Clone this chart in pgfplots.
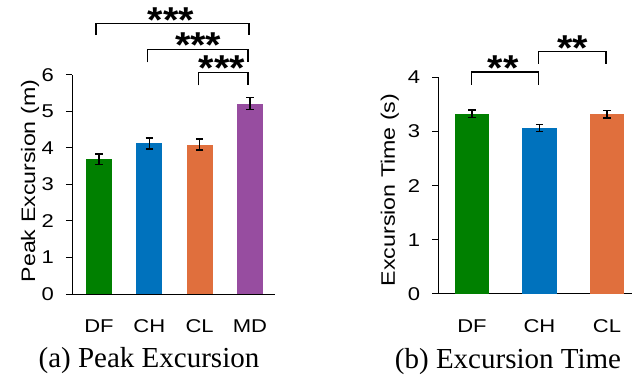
\documentclass[border=0pt]{standalone}
\usepackage{pgfplots}
\pgfplotsset{compat=1.18}
\usepackage{fontspec}
\setmainfont{Liberation Serif}
\newfontfamily\arial[FakeStretch=1.19]{Liberation Sans}
\newfontfamily\starfont[FakeStretch=1.1]{Liberation Sans}
\definecolor{cgreen}{RGB}{0,128,0}
\definecolor{cblue}{RGB}{0,114,189}
\definecolor{corange}{RGB}{224,111,61}
\definecolor{cpurple}{RGB}{151,77,160}
\pgfplotsset{
  mybase/.style={
    scale only axis, clip=false,
    axis lines=left, axis line style={-, line width=0.9pt, black},
    ymin=0,
    xtick style={draw=none},
    ytick style={line width=0.9pt, black},
    tick align=outside, major tick length=6pt,
    /pgf/number format/assume math mode=true,
    tick label style={font=\arial\fontsize{18.5}{20}\selectfont},
    label style={font=\arial\fontsize{19.5}{21}\selectfont},
    xticklabel style={anchor=base, inner sep=0pt, yshift=-33pt},
    yticklabel style={anchor=east, inner sep=0pt, xshift=-12pt},
  },
  mybar/.style 2 args={ybar, bar shift=0pt, bar width=#2, draw=none, fill=#1,
    /pgfplots/error bars/y dir=both, /pgfplots/error bars/y explicit,
    /pgfplots/error bars/error bar style={line width=1.4pt, black},
    /pgfplots/error bars/error mark options={rotate=90, line width=1.4pt, mark size=3.7pt, black}},
  bracket/.style={sharp plot, no marks, black, line width=1.2pt},
}
\tikzset{starnode/.style={anchor=base, inner sep=0pt, yshift=-8.5pt,
  font=\starfont\bfseries\fontsize{36}{36}\selectfont,
  text height=0.74em, text depth=-0.36em}}
\begin{document}
\begin{tikzpicture}
\useasboundingbox (0,0) rectangle (632pt,379pt);
% ---------- (a) ----------
\begin{axis}[mybase,
  at={(72pt,85pt)}, anchor=south west,
  width=203pt, height=219.3pt,
  xmin=-0.537, xmax=3.497, ymax=6,
  xtick={0,1,2,3}, xticklabels={DF,CH,CL,MD},
  ytick={0,1,2,3,4,5,6},
  ylabel={Peak Excursion (m)},
  ylabel style={at={(axis description cs:-0.182,0.515)}, anchor=base, inner sep=0pt},
]
\addplot[mybar={cgreen}{0.517}] coordinates {(0,3.69) +- (0,0.14)};
\addplot[mybar={cblue}{0.517}] coordinates {(1,4.12) +- (0,0.15)};
\addplot[mybar={corange}{0.517}] coordinates {(2,4.09) +- (0,0.15)};
\addplot[mybar={cpurple}{0.517}] coordinates {(3,5.21) +- (0,0.17)};
\addplot[bracket] coordinates {(-0.06,7.08) (-0.06,7.40) (2.98,7.40) (2.98,7.08)};
\addplot[bracket] coordinates {(0.97,6.34) (0.97,6.69) (2.96,6.69) (2.96,6.34)};
\addplot[bracket] coordinates {(1.97,5.71) (1.97,6.07) (2.96,6.07) (2.96,5.71)};
\node[starnode] at (axis cs:1.43,7.40) {***};
\node[starnode] at (axis cs:1.97,6.69) {***};
\node[starnode] at (axis cs:2.44,6.07) {***};
\end{axis}
% ---------- (b) ----------
\begin{axis}[mybase,
  at={(438.3pt,85.3pt)}, anchor=south west,
  width=193.4pt, height=216.2pt,
  xmin=-0.499, xmax=2.366, ymax=4,
  xtick={0,1,2}, xticklabels={DF,CH,CL},
  ytick={0,1,2,3,4},
  ylabel={Excursion Time (s)},
  ylabel style={at={(axis description cs:-0.224,0.48)}, anchor=base, inner sep=0pt},
]
\addplot[mybar={cgreen}{0.504}] coordinates {(0,3.33) +- (0,0.065)};
\addplot[mybar={cblue}{0.504}] coordinates {(1,3.07) +- (0,0.065)};
\addplot[mybar={corange}{0.504}] coordinates {(2,3.32) +- (0,0.07)};
\addplot[bracket] coordinates {(-0.01,3.865) (-0.01,4.10) (0.99,4.10) (0.99,3.865)};
\addplot[bracket] coordinates {(0.99,4.25) (0.99,4.48) (1.985,4.48) (1.985,4.25)};
\node[starnode] at (axis cs:0.46,4.10) {**};
\node[starnode] at (axis cs:1.49,4.48) {**};
\end{axis}
\node[font=\fontsize{29}{29}\selectfont, anchor=base, inner sep=0pt] at (149pt,11pt) {(a) Peak Excursion};
\node[font=\fontsize{29}{29}\selectfont, anchor=base, inner sep=0pt] at (508pt,10pt) {(b) Excursion Time};
\end{tikzpicture}
\end{document}
